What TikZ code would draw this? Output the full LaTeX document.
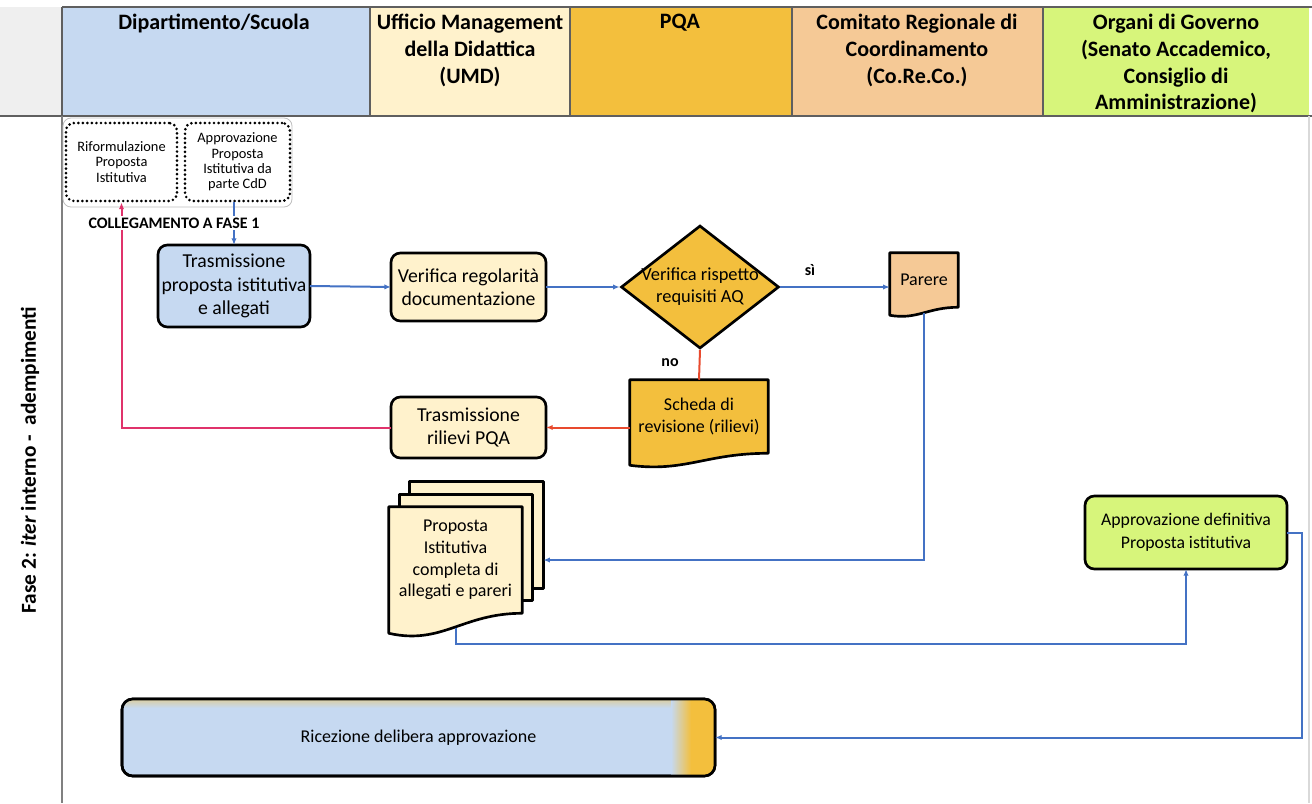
\documentclass[tikz,border=0pt]{standalone}
\usepackage{fontspec}
\setmainfont{Carlito}
\usetikzlibrary{arrows.meta,shapes.geometric,calc,backgrounds}

\definecolor{lanebl}{HTML}{C6D9F1}
\definecolor{lanecr}{HTML}{FFF2CC}
\definecolor{laneor}{HTML}{F3BF3D}
\definecolor{lanepe}{HTML}{F5C996}
\definecolor{lanegr}{HTML}{D7F57B}
\definecolor{lanegy}{HTML}{EFEFEF}
\definecolor{laneln}{HTML}{5F5F5F}
\definecolor{flowbl}{HTML}{4472C4}
\definecolor{flowrd}{HTML}{E84A2E}
\definecolor{flowpk}{HTML}{E0336B}

\tikzset{
  lanehead/.style={anchor=north, align=center, inner sep=0pt, font=\fontsize{16.5}{20}\selectfont\bfseries},
  stepbox/.style={draw=black, line width=2pt, rounded corners=7pt, align=center, inner sep=2pt, outer sep=0pt, font=\fontsize{13.3}{17.5}\selectfont},
  bigtext/.style={font=\fontsize{14.8}{17.6}\selectfont},
  docnode/.style={inner sep=0pt, align=center, font=\fontsize{13.5}{16.3}\selectfont},
  docline/.style={draw=black, line width=2pt, line join=round},
  linkbox/.style={draw=black, line width=2.2pt, line cap=round, dash pattern=on 0pt off 3.4pt, rounded corners=6pt, align=center, inner sep=0pt, font=\fontsize{10.8}{11.6}\selectfont},
  flow/.style={line width=1.5pt, -{Latex[length=5pt,width=4pt]}},
  tag/.style={inner sep=1pt, font=\fontsize{12}{14}\selectfont\bfseries},
}

\newcommand\docshape[3]{%
  \path[docline, fill=#2] (#1.north west) -- (#1.north east) -- (#1.south east)
    .. controls ($(#1.south east)!.45!(#1.south west)$) and ($(#1.south west)!.4!(#1.south east)+(0,1.6*#3)$) .. ($(#1.south west)+(0,#3)$) -- cycle;
  \coordinate (#1-foot) at ($(#1.south)+(0,.72*#3)$);
}

\begin{document}
\begin{tikzpicture}[x=0.75pt, y=-0.75pt]
\useasboundingbox (0,0) rectangle (1312,803);

\fill[lanegy] (0,7) rectangle (62,116);
\fill[lanebl] (62,7) rectangle (370,116);
\fill[lanecr] (370,7) rectangle (570,116);
\fill[laneor] (570,7) rectangle (792,116);
\fill[lanepe] (792,7) rectangle (1043,116);
\fill[lanegr] (1043,7) rectangle (1309,116);
\draw[laneln, line width=1.2pt] (62,7) -- (1312,7);
\draw[laneln, line width=1.2pt] (0,116) -- (1312,116);
\foreach \x in {62,370,570,792,1043} \draw[laneln, line width=1.2pt] (\x,7) -- (\x,116);
\draw[gray, line width=1pt] (62,116) -- (62,803);
\draw[gray!30, line width=0.8pt] (1309,116) -- (1309,803);

\node[lanehead] (hdip) at (214,14) {Dipartimento/Scuola};
\node[lanehead] (humd) at (470,14) {Ufficio Management\\della Didattica\\(UMD)};
\node[lanehead] (hpqa) at (680,14) {PQA};
\node[lanehead] (hcrc) at (917,14) {Comitato Regionale di\\Coordinamento\\(Co.Re.Co.)};
\node[lanehead] (hgov) at (1176,14) {Organi di Governo\\(Senato Accademico,\\Consiglio di\\Amministrazione)};

\node[rotate=90, font=\fontsize{16}{19}\selectfont\bfseries] (fase) at (30,460) {Fase 2: \textit{iter} interno -\ \ adempimenti};

\draw[gray!50, line width=0.6pt, rounded corners=6pt] (63,118) rectangle (292,207);
\node[linkbox, minimum width=83.25pt, minimum height=58.5pt] (riform) at (121.5,162) {Riformulazione\\Proposta\\Istitutiva};
\node[linkbox, minimum width=78.75pt, minimum height=58.5pt] (approvcdd) at (237.5,162) {Approvazione\\Proposta\\Istitutiva da\\parte CdD};

\node[stepbox, bigtext, fill=lanebl, minimum width=114pt, minimum height=61.5pt] (trasm) at (234,286) {Trasmissione\\proposta istitutiva\\e allegati};
\node[stepbox, bigtext, fill=lanecr, minimum width=116.25pt, minimum height=51pt] (verreg) at (468.5,287) {Verifica regolarità\\documentazione};
\node[diamond, draw=black, line width=2pt, fill=laneor, inner sep=0pt, minimum width=118.5pt, minimum height=92.25pt,
  label={[align=center, font=\fontsize{13.8}{16.5}\selectfont]center:{Verifica rispetto\\requisiti AQ}}] (verrisp) at (700,287) {};
\node[docnode, minimum width=51pt, minimum height=40.5pt] (parere) at (924,280) {Parere};
\node[docnode, minimum width=103.5pt, minimum height=54.75pt] (scheda) at (699,416.5) {Scheda di\\revisione (rilievi)};
\node[stepbox, bigtext, fill=lanecr, minimum width=116.25pt, minimum height=45.75pt] (rilievi) at (468.5,427.5) {Trasmissione\\rilievi PQA};
\node[docnode, minimum width=99.75pt, minimum height=79.5pt] (props) at (455.5,560) {Proposta\\Istitutiva\\completa di\\allegati e pareri};
\node[stepbox, fill=lanegr, minimum width=151.5pt, minimum height=54.75pt] (approv) at (1186,532.5) {Approvazione definitiva\\Proposta istitutiva};
\node[stepbox, fill=lanebl, rounded corners=8pt, minimum width=444.75pt, minimum height=57.75pt, font=\fontsize{13.5}{16}\selectfont] (ricez) at (418.5,737.5) {Ricezione delibera approvazione};

\begin{scope}
\clip[rounded corners=8pt] (ricez.north west) rectangle (ricez.south east);
\shade[top color=laneor!45!lanebl, bottom color=lanebl] (ricez.north west) rectangle ($(ricez.north east)+(-40,9)$);
\shade[left color=lanebl, right color=laneor] ($(ricez.north east)+(-44,0)$) rectangle ($(ricez.south east)+(-24,0)$);
\fill[laneor] ($(ricez.north east)+(-24.5,0)$) rectangle (ricez.south east);
\end{scope}
\draw[line width=2pt, rounded corners=8pt] (ricez.north west) rectangle (ricez.south east);

\begin{scope}[on background layer]
\draw[docline, fill=lanecr] ($(props.north west)+(21,-25)$) rectangle ($(props.south east)+(21,-25)$);
\draw[docline, fill=lanecr] ($(props.north west)+(10.5,-12.5)$) rectangle ($(props.south east)+(10.5,-12.5)$);
\docshape{props}{lanecr}{20}
\docshape{parere}{lanepe}{8}
\docshape{scheda}{laneor}{12}
\end{scope}
\coordinate (props-back) at ($(props.east)+(21,0)$);
\coordinate (rturn) at (1302,737.5);

\draw[flow, flowbl] (trasm.north |- approvcdd.south) -- (trasm.north);
\draw[flow, flowbl] (trasm.east) -- (verreg.west);
\draw[flow, flowbl] (verreg.east) -- (verrisp.west);
\draw[flow, flowbl] (verrisp.east) -- (verrisp.east -| parere.west);
\draw[line width=1.5pt, flowrd] (verrisp.south) -- (scheda.north);
\draw[flow, flowrd] (scheda.west |- rilievi.east) -- (rilievi.east);
\draw[flow, flowpk] (rilievi.west) -| (riform.south);
\draw[flow, flowbl] (parere-foot) |- (props-back);
\draw[flow, flowbl] (props-foot) -- ++(0,16) -| (approv.south);
\draw[flow, flowbl] (approv.east) -| (rturn) -- (ricez.east);

\node[tag, fill=white] (colleg) at (174,223) {COLLEGAMENTO A FASE 1};
\node[tag] (si) at (810,270) {sì};
\node[tag] (no) at (670,363) {no};
\end{tikzpicture}
\end{document}
